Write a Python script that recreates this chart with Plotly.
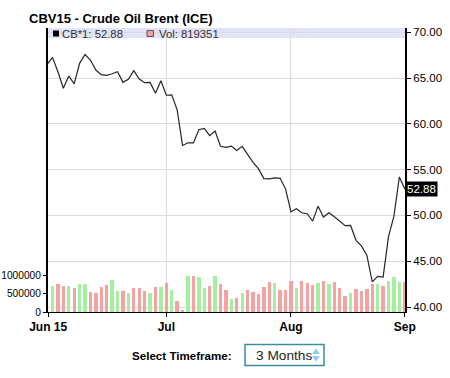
import plotly.graph_objects as go

# ---------------- data ----------------
title = "CBV15 - Crude Oil Brent (ICE)"
month_labels = ["Jun 15", "Jul", "Aug", "Sep"]
month_tick_idx = [-0.8, 21, 44, 65]          # trading-day index of month labels
price_ticks = [40, 45, 50, 55, 60, 65, 70]
vol_ticks = [0, 500000, 1000000]

# close prices: first value is the session before the first volume bar (Jun 1)
close = [66.47,
         67.25, 65.68, 63.88, 65.22, 64.35, 66.60, 67.57, 66.96, 65.87, 65.36,
         65.29, 65.47, 65.68, 64.53, 64.86, 65.80, 64.89, 64.49, 64.52, 63.34,
         64.71, 63.12, 63.16, 61.52, 57.64, 57.93, 57.92, 59.35, 59.49, 58.70,
         59.22, 57.55, 57.42, 57.57, 57.08, 57.54, 56.63, 55.80, 55.11, 54.02,
         53.99, 54.10, 54.05, 52.90, 50.38, 50.73, 50.29, 50.18, 49.38, 51.01,
         49.82, 50.29, 49.86, 49.38, 48.88, 48.90, 47.28, 46.67, 45.65, 42.75,
         43.34, 43.26, 47.68, 49.92, 54.20, 52.88]

volume = [711000, 765000, 711000, 711000, 657000, 765000, 765000, 549000, 522000, 676000,
          738000, 865000, 568000, 568000, 522000, 649000, 649000, 568000, 522000, 676000,
          685000, 784000, 595000, 297000, 35000, 973000, 973000, 937000, 649000, 703000,
          973000, 748000, 595000, 351000, 378000, 514000, 595000, 541000, 495000, 676000,
          811000, 784000, 595000, 595000, 838000, 649000, 838000, 784000, 738000, 784000,
          838000, 757000, 811000, 649000, 432000, 522000, 622000, 576000, 622000, 765000,
          765000, 711000, 847000, 946000, 819000, 819351]

# day direction (G = up day, R = down day)
direction = list("GRRGRGGRRR" "RGGRGRRRGR" "GRGRRGRGGR" "GRRGRGRRRR"
                 "RGRRRGRRRG" "RGRRRGRRRR" "GRGGGR")

last_price = 52.88
last_volume = 819351
contract_code = "CB*1"
timeframe = "3 Months"

# ---------------- figure ----------------
bar_x = list(range(len(volume)))
line_x = list(range(-1, len(close) - 1))
color_map = {"G": "#a4f0a0", "R": "#f4a2a2"}
bar_colors = [color_map[d] for d in direction]

FONT = "Liberation Sans, Arial, sans-serif"

fig = go.Figure()
fig.add_trace(go.Bar(x=bar_x, y=volume, marker=dict(color=bar_colors, line=dict(width=0)),
                     width=0.62, yaxis="y", showlegend=False, hoverinfo="skip"))
fig.add_trace(go.Scatter(x=line_x, y=close, mode="lines", yaxis="y2",
                         line=dict(color="#262626", width=1.2), showlegend=False))

W, H = 450, 378
L, R, T, B = 48, 45, 28, 66
pw, ph = W - L - R, H - T - B

def px(x):
    return (x - L) / pw

def py(y):
    return (H - B - y) / ph

fig.update_layout(
    width=W, height=H,
    margin=dict(l=L, r=R, t=T, b=B, pad=0, autoexpand=False),
    paper_bgcolor="white", plot_bgcolor="rgba(0,0,0,0)",
    font=dict(family=FONT, size=11, color="#000"),
    bargap=0,
    xaxis=dict(range=[-0.83, 65.04], tickvals=month_tick_idx, ticktext=month_labels,
               tickfont=dict(family=FONT, size=12, color="#000", weight="bold"),
               showgrid=True, gridcolor="#dcdcdc", gridwidth=1, automargin=False,
               showline=True, linecolor="#000", linewidth=1,
               ticks="outside", ticklen=4, tickcolor="#000", zeroline=False),
    yaxis=dict(range=[0, 7676000], tickvals=vol_ticks,
               ticktext=[str(v) for v in vol_ticks], automargin=False,
               tickfont=dict(family=FONT, size=10.2, color="#000"),
               showgrid=False, zeroline=False,
               showline=True, linecolor="#000", linewidth=2,
               ticks="outside", ticklen=3, tickcolor="#000"),
    yaxis2=dict(range=[39.454, 70.46], overlaying="y", side="right", automargin=False,
                tickvals=price_ticks, ticktext=[f"{v:.2f}" for v in price_ticks],
                tickfont=dict(family=FONT, size=11.5, color="#000"),
                showgrid=True, gridcolor="#dcdcdc", gridwidth=1, zeroline=False,
                showline=True, linecolor="#000", linewidth=2,
                ticks="outside", ticklen=4, tickcolor="#000"),
)

shapes = [
    # legend band
    dict(type="rect", xref="paper", yref="paper", x0=0, x1=1, y0=py(38), y1=1,
         fillcolor="#e2e2f8", line=dict(width=0), layer="below"),
    # black legend square
    dict(type="rect", xref="paper", yref="paper", x0=px(53), x1=px(59), y0=py(36.5), y1=py(30.5),
         fillcolor="#000", line=dict(width=0)),
    # pink legend square
    dict(type="rect", xref="paper", yref="paper", x0=px(147), x1=px(153.5), y0=py(36.5), y1=py(30.5),
         fillcolor="#f4a2a2", line=dict(color="#555", width=1)),
    # select box
    dict(type="rect", xref="paper", yref="paper", x0=px(245), x1=px(324), y0=py(365.5), y1=py(344.5),
         fillcolor="white", line=dict(color="#3a8ea0", width=1.5)),
    # up / down arrows
    dict(type="path", xref="paper", yref="paper",
         path=f"M {px(312)},{py(354)} L {px(320)},{py(354)} L {px(316)},{py(348.5)} Z",
         fillcolor="#8dd0ec", line=dict(width=0)),
    dict(type="path", xref="paper", yref="paper",
         path=f"M {px(312)},{py(356)} L {px(320)},{py(356)} L {px(316)},{py(361.5)} Z",
         fillcolor="#8dd0ec", line=dict(width=0)),
]
fig.update_layout(shapes=shapes)

annotations = [
    dict(text=f"<b>{title}</b>", xref="paper", yref="paper", x=px(27), y=py(19),
         xanchor="left", yanchor="middle", showarrow=False,
         font=dict(family=FONT, size=13, color="#000")),
    dict(text=f"{contract_code}: {last_price:.2f}", xref="paper", yref="paper", x=px(60), y=py(33.5),
         xanchor="left", yanchor="middle", showarrow=False,
         font=dict(family=FONT, size=11.3, color="#333")),
    dict(text=f"Vol: {last_volume}", xref="paper", yref="paper", x=px(156.5), y=py(33.5),
         xanchor="left", yanchor="middle", showarrow=False,
         font=dict(family=FONT, size=11.3, color="#333")),
    dict(text=f"{last_price:.2f}", xref="paper", yref="y2", x=1, y=last_price,
         xanchor="left", yanchor="middle", showarrow=False, xshift=0,
         bgcolor="#000", borderpad=1,
         font=dict(family=FONT, size=11.5, color="#fff")),
    dict(text="<b>Select Timeframe:</b>", xref="paper", yref="paper", x=px(130), y=py(355),
         xanchor="left", yanchor="middle", showarrow=False,
         font=dict(family=FONT, size=11.6, color="#000")),
    dict(text=timeframe, xref="paper", yref="paper", x=px(253.5), y=py(355),
         xanchor="left", yanchor="middle", showarrow=False,
         font=dict(family=FONT, size=13.7, color="#222")),
]
fig.update_layout(annotations=annotations)

fig.write_html("out.html")
